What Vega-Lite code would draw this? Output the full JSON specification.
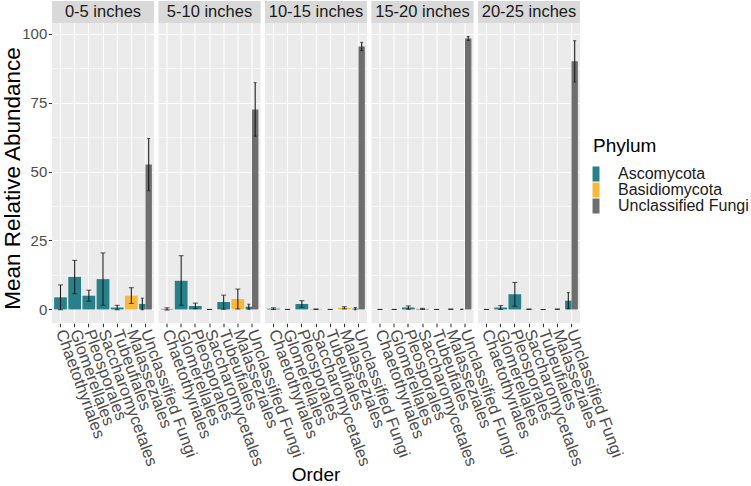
{
  "$schema": "https://vega.github.io/schema/vega-lite/v6.json",
  "padding": {"left": 1, "top": 1, "right": 5, "bottom": 0},
  "background": "white",
  "config": {
    "font": "Liberation Sans",
    "view": {"fill": "#EBEBEB", "stroke": null}
  },
  "data": {
    "values": [
      {"depth": "0-5 inches", "Order": "Chaetothyriales", "phylum": "Ascomycota", "mean": 4.4, "lo": -0.1, "hi": 8.9},
      {"depth": "0-5 inches", "Order": "Glomerellales", "phylum": "Ascomycota", "mean": 11.8, "lo": 5.7, "hi": 17.8},
      {"depth": "0-5 inches", "Order": "Pleosporales", "phylum": "Ascomycota", "mean": 5.0, "lo": 3.0, "hi": 7.0},
      {"depth": "0-5 inches", "Order": "Saccharomycetales", "phylum": "Ascomycota", "mean": 11.0, "lo": 1.5, "hi": 20.5},
      {"depth": "0-5 inches", "Order": "Tubeufiales", "phylum": "Ascomycota", "mean": 0.7, "lo": -0.1, "hi": 1.5},
      {"depth": "0-5 inches", "Order": "Malasseziales", "phylum": "Basidiomycota", "mean": 5.0, "lo": 2.2, "hi": 7.9},
      {"depth": "0-5 inches", "Order": "Unclassified Fungi", "phylum": "Ascomycota", "mean": 2.0, "lo": -0.1, "hi": 4.1},
      {"depth": "0-5 inches", "Order": "Unclassified Fungi", "phylum": "Unclassified Fungi", "mean": 52.5, "lo": 43.0, "hi": 62.0},

      {"depth": "5-10 inches", "Order": "Chaetothyriales", "phylum": "Ascomycota", "mean": 0.2, "lo": -0.2, "hi": 0.6},
      {"depth": "5-10 inches", "Order": "Glomerellales", "phylum": "Ascomycota", "mean": 10.4, "lo": 1.5, "hi": 19.5},
      {"depth": "5-10 inches", "Order": "Pleosporales", "phylum": "Ascomycota", "mean": 1.3, "lo": 0.3, "hi": 2.3},
      {"depth": "5-10 inches", "Order": "Saccharomycetales", "phylum": "Ascomycota", "mean": 0.0, "lo": 0.0, "hi": 0.0},
      {"depth": "5-10 inches", "Order": "Tubeufiales", "phylum": "Ascomycota", "mean": 2.7, "lo": 0.1, "hi": 5.2},
      {"depth": "5-10 inches", "Order": "Malasseziales", "phylum": "Basidiomycota", "mean": 3.8, "lo": 0.2, "hi": 7.4},
      {"depth": "5-10 inches", "Order": "Unclassified Fungi", "phylum": "Ascomycota", "mean": 1.0, "lo": 0.1, "hi": 1.9},
      {"depth": "5-10 inches", "Order": "Unclassified Fungi", "phylum": "Unclassified Fungi", "mean": 72.5, "lo": 62.8, "hi": 82.2},

      {"depth": "10-15 inches", "Order": "Chaetothyriales", "phylum": "Ascomycota", "mean": 0.3, "lo": 0.0, "hi": 0.6},
      {"depth": "10-15 inches", "Order": "Glomerellales", "phylum": "Ascomycota", "mean": 0.0, "lo": 0.0, "hi": 0.0},
      {"depth": "10-15 inches", "Order": "Pleosporales", "phylum": "Ascomycota", "mean": 2.0, "lo": 0.8, "hi": 3.2},
      {"depth": "10-15 inches", "Order": "Saccharomycetales", "phylum": "Ascomycota", "mean": 0.1, "lo": 0.0, "hi": 0.2},
      {"depth": "10-15 inches", "Order": "Tubeufiales", "phylum": "Ascomycota", "mean": 0.0, "lo": 0.0, "hi": 0.0},
      {"depth": "10-15 inches", "Order": "Malasseziales", "phylum": "Basidiomycota", "mean": 0.6, "lo": 0.2, "hi": 1.0},
      {"depth": "10-15 inches", "Order": "Unclassified Fungi", "phylum": "Ascomycota", "mean": 0.3, "lo": -0.1, "hi": 0.7},
      {"depth": "10-15 inches", "Order": "Unclassified Fungi", "phylum": "Unclassified Fungi", "mean": 95.3, "lo": 93.8, "hi": 96.8},

      {"depth": "15-20 inches", "Order": "Chaetothyriales", "phylum": "Ascomycota", "mean": 0.0, "lo": 0.0, "hi": 0.0},
      {"depth": "15-20 inches", "Order": "Glomerellales", "phylum": "Ascomycota", "mean": 0.0, "lo": 0.0, "hi": 0.0},
      {"depth": "15-20 inches", "Order": "Pleosporales", "phylum": "Ascomycota", "mean": 0.7, "lo": 0.1, "hi": 1.3},
      {"depth": "15-20 inches", "Order": "Saccharomycetales", "phylum": "Ascomycota", "mean": 0.2, "lo": 0.0, "hi": 0.4},
      {"depth": "15-20 inches", "Order": "Tubeufiales", "phylum": "Ascomycota", "mean": 0.0, "lo": 0.0, "hi": 0.0},
      {"depth": "15-20 inches", "Order": "Malasseziales", "phylum": "Basidiomycota", "mean": 0.1, "lo": 0.0, "hi": 0.2},
      {"depth": "15-20 inches", "Order": "Unclassified Fungi", "phylum": "Ascomycota", "mean": 0.05, "lo": 0.0, "hi": 0.1},
      {"depth": "15-20 inches", "Order": "Unclassified Fungi", "phylum": "Unclassified Fungi", "mean": 98.2, "lo": 97.5, "hi": 98.9},

      {"depth": "20-25 inches", "Order": "Chaetothyriales", "phylum": "Ascomycota", "mean": 0.0, "lo": 0.0, "hi": 0.0},
      {"depth": "20-25 inches", "Order": "Glomerellales", "phylum": "Ascomycota", "mean": 0.7, "lo": 0.0, "hi": 1.4},
      {"depth": "20-25 inches", "Order": "Pleosporales", "phylum": "Ascomycota", "mean": 5.5, "lo": 1.2, "hi": 9.8},
      {"depth": "20-25 inches", "Order": "Saccharomycetales", "phylum": "Ascomycota", "mean": 0.1, "lo": 0.0, "hi": 0.2},
      {"depth": "20-25 inches", "Order": "Tubeufiales", "phylum": "Ascomycota", "mean": 0.0, "lo": 0.0, "hi": 0.0},
      {"depth": "20-25 inches", "Order": "Malasseziales", "phylum": "Basidiomycota", "mean": 0.1, "lo": 0.0, "hi": 0.2},
      {"depth": "20-25 inches", "Order": "Unclassified Fungi", "phylum": "Ascomycota", "mean": 3.2, "lo": 0.3, "hi": 6.1},
      {"depth": "20-25 inches", "Order": "Unclassified Fungi", "phylum": "Unclassified Fungi", "mean": 90.0, "lo": 82.5, "hi": 97.4}
    ]
  },
  "spacing": 4.5,
  "facet": {
    "column": {
      "field": "depth",
      "type": "nominal",
      "sort": ["0-5 inches", "5-10 inches", "10-15 inches", "15-20 inches", "20-25 inches"],
      "header": {
        "title": "Order",
        "titleOrient": "bottom",
        "labels": false,
        "titleFontSize": 19,
        "titleColor": "black",
        "titleFontWeight": "normal",
        "titlePadding": -12
      }
    }
  },
  "spec": {
    "width": 102,
    "height": 322,
    "layer": [
      {
        "transform": [{"filter": "datum.Order !== 'Unclassified Fungi'"}],
        "mark": {"type": "bar", "width": {"band": 0.9}},
        "encoding": {
          "x": {
            "field": "Order",
            "type": "nominal",
            "title": null,
            "scale": {
              "domain": ["Chaetothyriales", "Glomerellales", "Pleosporales", "Saccharomycetales", "Tubeufiales", "Malasseziales", "Unclassified Fungi"],
              "paddingInner": 0,
              "paddingOuter": 0.1
            },
            "axis": {
              "title": null,
              "labelAngle": 70,
              "labelAlign": "left",
              "labelBaseline": "middle",
              "labelFontSize": 16.5,
              "labelColor": "#4D4D4D",
              "labelPadding": 3,
              "labelOverlap": false,
              "labelLimit": 300,
              "tickColor": "#333333",
              "tickSize": 3.7,
              "tickWidth": 1.07,
              "domain": false,
              "grid": true,
              "gridColor": "white",
              "gridWidth": 1.1,
              "bandPosition": 0.5
            }
          },
          "y": {
            "field": "mean",
            "type": "quantitative",
            "title": "Mean Relative Abundance",
            "scale": {"domain": [-4.9, 111.8], "nice": false, "zero": false},
            "axis": {
              "values": [0, 12.5, 25, 37.5, 50, 62.5, 75, 87.5, 100],
              "labelExpr": "datum.value % 25 === 0 ? datum.label : ''",
              "domain": false,
              "tickColor": "#333333",
              "tickSize": 3.7,
              "tickWidth": 1.07,
              "tickOpacity": {"condition": {"test": "datum.value % 25 !== 0", "value": 0}, "value": 1},
              "gridColor": "white",
              "gridWidth": {"condition": {"test": "datum.value % 25 !== 0", "value": 0.55}, "value": 1.1},
              "labelFontSize": 15,
              "labelColor": "#4D4D4D",
              "labelPadding": 1.5,
              "titleFontSize": 22.5,
              "titleColor": "black",
              "titleFontWeight": "normal",
              "titlePadding": -3,
              "titleY": 177
            }
          },
          "color": {
            "field": "phylum",
            "type": "nominal",
            "scale": {
              "domain": ["Ascomycota", "Basidiomycota", "Unclassified Fungi"],
              "range": ["#28808A", "#F9B83A", "#6E6E6E"]
            },
            "legend": {
              "title": "Phylum",
              "orient": "none",
              "legendX": 541,
              "legendY": 136,
              "padding": 0,
              "titleFontSize": 19,
              "titleFontWeight": "normal",
              "titleColor": "black",
              "titlePadding": 10,
              "labelFontSize": 16,
              "labelColor": "#1A1A1A",
              "labelOffset": 9,
              "symbolType": "M-1.13,-1H-0.2V1H-1.13Z",
              "symbolSize": 225,
              "symbolStrokeWidth": 0,
              "symbolOpacity": 1,
              "rowPadding": -2
            }
          }
        }
      },
      {
        "transform": [{"filter": "datum.Order !== 'Unclassified Fungi'"}],
        "encoding": {
          "x": {"field": "Order", "type": "nominal", "title": null}
        },
        "layer": [
          {
            "mark": {"type": "rule", "color": "#1A1A1A", "strokeWidth": 1.07},
            "encoding": {
              "y": {"field": "lo", "type": "quantitative", "title": "Mean Relative Abundance"},
              "y2": {"field": "hi"}
            }
          },
          {
            "mark": {"type": "tick", "orient": "horizontal", "color": "#1A1A1A", "thickness": 1.07, "size": 5},
            "encoding": {"y": {"field": "lo", "type": "quantitative", "title": "Mean Relative Abundance"}}
          },
          {
            "mark": {"type": "tick", "orient": "horizontal", "color": "#1A1A1A", "thickness": 1.07, "size": 5},
            "encoding": {"y": {"field": "hi", "type": "quantitative", "title": "Mean Relative Abundance"}}
          }
        ]
      },
      {
        "transform": [{"filter": "datum.Order === 'Unclassified Fungi'"}],
        "encoding": {
          "x": {"field": "Order", "type": "nominal", "title": null},
          "xOffset": {
            "field": "phylum",
            "type": "nominal",
            "scale": {"domain": ["Ascomycota", "Unclassified Fungi"], "paddingInner": 0, "paddingOuter": 0.11}
          }
        },
        "layer": [
          {
            "mark": {"type": "bar"},
            "encoding": {
              "y": {"field": "mean", "type": "quantitative", "title": "Mean Relative Abundance"},
              "color": {"field": "phylum", "type": "nominal"}
            }
          },
          {
            "mark": {"type": "rule", "color": "#1A1A1A", "strokeWidth": 1.07},
            "encoding": {
              "y": {"field": "lo", "type": "quantitative", "title": "Mean Relative Abundance"},
              "y2": {"field": "hi"}
            }
          },
          {
            "mark": {"type": "tick", "orient": "horizontal", "color": "#1A1A1A", "thickness": 1.07, "size": 3},
            "encoding": {"y": {"field": "lo", "type": "quantitative", "title": "Mean Relative Abundance"}}
          },
          {
            "mark": {"type": "tick", "orient": "horizontal", "color": "#1A1A1A", "thickness": 1.07, "size": 3},
            "encoding": {"y": {"field": "hi", "type": "quantitative", "title": "Mean Relative Abundance"}}
          }
        ]
      },
      {
        "transform": [{"aggregate": [{"op": "count", "as": "n"}], "groupby": ["depth"]}],
        "mark": {"type": "rect", "fill": "#D9D9D9"},
        "encoding": {
          "y": {"datum": 103.8, "type": "quantitative", "title": "Mean Relative Abundance"},
          "y2": {"datum": 111.8}
        }
      },
      {
        "transform": [{"aggregate": [{"op": "count", "as": "n"}], "groupby": ["depth"]}],
        "mark": {"type": "text", "fontSize": 16.5, "color": "#1A1A1A", "baseline": "middle", "align": "center"},
        "encoding": {
          "y": {"datum": 107.8, "type": "quantitative", "title": "Mean Relative Abundance"},
          "text": {"field": "depth", "type": "nominal"}
        }
      }
    ]
  }
}
